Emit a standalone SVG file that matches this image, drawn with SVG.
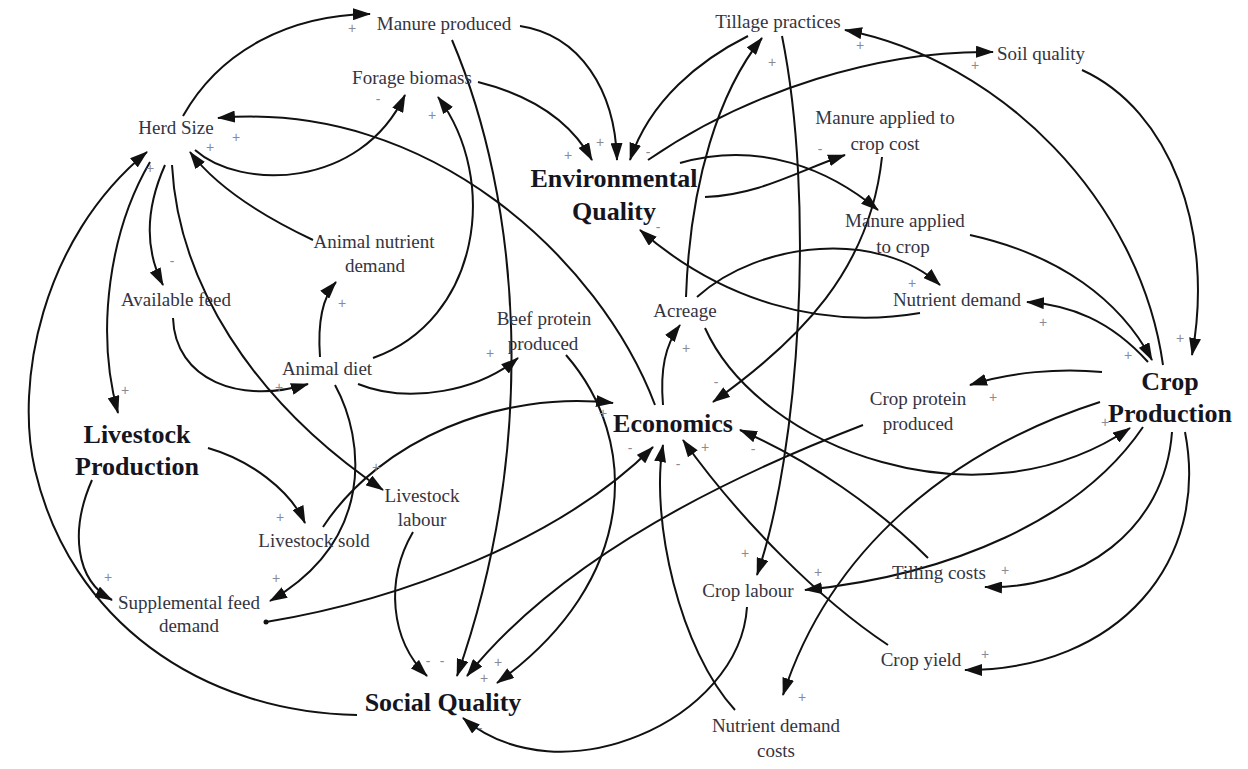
<svg xmlns="http://www.w3.org/2000/svg" width="1248" height="769" viewBox="0 0 1248 769">
<defs>
<style>
.n{font-family:"Liberation Serif","Times New Roman",serif;font-size:19px;fill:#34343f;text-anchor:middle}
.b{font-family:"Liberation Serif","Times New Roman",serif;font-size:26px;font-weight:bold;fill:#15151f;text-anchor:middle}
.c{fill:none;stroke:#111;stroke-width:2}
.c.a{marker-end:url(#ah)}
.s{font-family:"Liberation Sans",Arial,sans-serif;font-size:14px;fill:#8a8a96;text-anchor:middle}
</style>
<marker id="ah" markerUnits="userSpaceOnUse" markerWidth="18" markerHeight="12" refX="17" refY="6" orient="auto">
<path d="M0,0 L18,6 L0,12 z" fill="#111"/>
</marker>
</defs>
<rect width="1248" height="769" fill="#fff"/>
<g id="connectors">
<path class="c a" d="M183,116 C220,50 290,15 370,14"/>
<path class="c a" d="M520,26 C580,35 615,90 617,160"/>
<path class="c a" d="M452,40 C520,200 540,440 457,676"/>
<path class="c a" d="M478,82 C530,95 570,120 592,160"/>
<path class="c a" d="M195,150 C240,190 360,190 405,95"/>
<path class="c a" d="M655,405 C600,260 430,100 218,118"/>
<path class="c a" d="M313,240 C260,215 215,185 190,152"/>
<path class="c a" d="M357,715 C200,712 70,620 35,470 C15,385 40,240 147,152"/>
<path class="c a" d="M150,162 C110,230 95,330 118,413"/>
<path class="c a" d="M165,165 C145,210 145,250 163,285"/>
<path class="c a" d="M172,165 C178,280 250,400 383,490"/>
<path class="c a" d="M320,357 C318,330 320,300 336,282"/>
<path class="c a" d="M373,358 C480,320 500,180 438,97"/>
<path class="c a" d="M173,318 C175,380 240,405 308,384"/>
<path class="c a" d="M358,384 C410,405 480,390 518,358"/>
<path class="c a" d="M335,385 C365,440 375,540 270,601"/>
<path class="c a" d="M208,448 C250,460 290,490 305,523"/>
<path class="c a" d="M92,480 C70,530 75,580 112,600"/>
<path class="c a" d="M323,527 C380,440 500,390 613,403"/>
<path class="c a" d="M413,532 C385,580 390,640 427,676"/>
<path class="c a" d="M566,355 C640,440 640,580 497,683"/>
<path class="c a" d="M863,425 C720,480 560,560 467,676"/>
<path class="c a" d="M266,622 C400,600 560,540 653,447"/>
<circle cx="266" cy="622" r="2.5" fill="#111"/>
<path class="c a" d="M747,607 C740,720 560,800 463,718"/>
<path class="c a" d="M663,405 C660,370 665,345 680,325"/>
<path class="c a" d="M686,297 C690,180 720,90 762,38"/>
<path class="c a" d="M748,36 C700,60 650,100 630,160"/>
<path class="c a" d="M782,36 C815,200 800,450 757,575"/>
<path class="c a" d="M1163,365 C1140,200 1000,60 845,30"/>
<path class="c a" d="M648,160 C750,90 880,50 993,52"/>
<path class="c a" d="M1082,70 C1170,110 1215,230 1192,355"/>
<path class="c a" d="M705,197 C760,195 800,170 845,155"/>
<path class="c a" d="M680,163 C760,140 830,170 878,210"/>
<path class="c a" d="M882,157 C870,270 800,340 713,402"/>
<path class="c a" d="M970,235 C1060,255 1120,300 1152,360"/>
<path class="c a" d="M1148,362 C1110,320 1070,305 1027,302"/>
<path class="c a" d="M920,313 C820,330 720,300 640,230"/>
<path class="c a" d="M697,297 C760,240 880,230 940,285"/>
<path class="c a" d="M705,328 C760,450 980,530 1130,428"/>
<path class="c a" d="M1102,372 C1060,368 1010,372 970,385"/>
<path class="c a" d="M1143,427 C1080,520 950,575 805,590"/>
<path class="c a" d="M1100,402 C950,450 830,550 783,695"/>
<path class="c a" d="M1172,432 C1165,530 1080,590 985,587"/>
<path class="c a" d="M1185,432 C1210,560 1120,670 965,670"/>
<path class="c a" d="M928,558 C880,510 810,460 740,430"/>
<path class="c a" d="M888,645 C820,600 740,520 683,440"/>
<path class="c a" d="M735,710 C680,650 650,520 663,445"/>
</g>
<g id="polarity">
<text class="s" x="352" y="33">+</text>
<text class="s" x="378" y="104">-</text>
<text class="s" x="432" y="120">+</text>
<text class="s" x="236" y="142">+</text>
<text class="s" x="210" y="152">+</text>
<text class="s" x="150" y="173">+</text>
<text class="s" x="172" y="266">-</text>
<text class="s" x="125" y="395">+</text>
<text class="s" x="342" y="308">+</text>
<text class="s" x="279" y="392">+</text>
<text class="s" x="490" y="358">+</text>
<text class="s" x="376" y="472">+</text>
<text class="s" x="280" y="522">+</text>
<text class="s" x="108" y="582">+</text>
<text class="s" x="276" y="583">+</text>
<text class="s" x="603" y="418">+</text>
<text class="s" x="630" y="453">-</text>
<text class="s" x="678" y="469">-</text>
<text class="s" x="705" y="452">+</text>
<text class="s" x="753" y="454">-</text>
<text class="s" x="716" y="387">-</text>
<text class="s" x="686" y="353">+</text>
<text class="s" x="428" y="666">-</text>
<text class="s" x="442" y="666">-</text>
<text class="s" x="498" y="667">+</text>
<text class="s" x="484" y="683">+</text>
<text class="s" x="480" y="733">-</text>
<text class="s" x="568" y="160">+</text>
<text class="s" x="600" y="147">+</text>
<text class="s" x="648" y="157">-</text>
<text class="s" x="658" y="232">-</text>
<text class="s" x="772" y="67">+</text>
<text class="s" x="860" y="50">+</text>
<text class="s" x="975" y="70">+</text>
<text class="s" x="820" y="154">-</text>
<text class="s" x="912" y="288">+</text>
<text class="s" x="1043" y="327">+</text>
<text class="s" x="1128" y="360">+</text>
<text class="s" x="1180" y="343">+</text>
<text class="s" x="993" y="402">+</text>
<text class="s" x="1105" y="427">+</text>
<text class="s" x="818" y="577">+</text>
<text class="s" x="745" y="558">+</text>
<text class="s" x="1005" y="575">+</text>
<text class="s" x="985" y="659">+</text>
<text class="s" x="802" y="702">+</text>
</g>
<g id="manure-produced"><text class="n" x="444" y="30">Manure produced</text></g>
<g id="forage-biomass"><text class="n" x="412" y="84">Forage biomass</text></g>
<g id="herd-size"><text class="n" x="176" y="134">Herd Size</text></g>
<g id="tillage-practices"><text class="n" x="778" y="28">Tillage practices</text></g>
<g id="soil-quality"><text class="n" x="1041" y="60">Soil quality</text></g>
<g id="manure-applied-cost"><text class="n" x="885" y="124">Manure applied to</text><text class="n" x="885" y="150">crop cost</text></g>
<g id="environmental-quality"><text class="b" x="614" y="187">Environmental</text><text class="b" x="614" y="220">Quality</text></g>
<g id="manure-applied-crop"><text class="n" x="905" y="227">Manure applied</text><text class="n" x="903" y="253">to crop</text></g>
<g id="animal-nutrient-demand"><text class="n" x="374" y="248">Animal nutrient</text><text class="n" x="375" y="272">demand</text></g>
<g id="available-feed"><text class="n" x="176" y="306">Available feed</text></g>
<g id="nutrient-demand"><text class="n" x="957" y="306">Nutrient demand</text></g>
<g id="acreage"><text class="n" x="685" y="317">Acreage</text></g>
<g id="beef-protein"><text class="n" x="544" y="325">Beef protein</text><text class="n" x="543" y="350">produced</text></g>
<g id="animal-diet"><text class="n" x="327" y="375">Animal diet</text></g>
<g id="crop-production"><text class="b" x="1170" y="390">Crop</text><text class="b" x="1170" y="422">Production</text></g>
<g id="livestock-production"><text class="b" x="137" y="443">Livestock</text><text class="b" x="137" y="475">Production</text></g>
<g id="economics"><text class="b" x="673" y="432">Economics</text></g>
<g id="crop-protein"><text class="n" x="918" y="405">Crop protein</text><text class="n" x="918" y="430">produced</text></g>
<g id="livestock-labour"><text class="n" x="422" y="502">Livestock</text><text class="n" x="422" y="526">labour</text></g>
<g id="livestock-sold"><text class="n" x="314" y="547">Livestock sold</text></g>
<g id="supplemental-feed"><text class="n" x="189" y="609">Supplemental feed</text><text class="n" x="189" y="632">demand</text></g>
<g id="crop-labour"><text class="n" x="748" y="597">Crop labour</text></g>
<g id="tilling-costs"><text class="n" x="939" y="579">Tilling costs</text></g>
<g id="crop-yield"><text class="n" x="921" y="666">Crop yield</text></g>
<g id="social-quality"><text class="b" x="443" y="711">Social Quality</text></g>
<g id="nutrient-demand-costs"><text class="n" x="776" y="732">Nutrient demand</text><text class="n" x="776" y="757">costs</text></g>
</svg>
